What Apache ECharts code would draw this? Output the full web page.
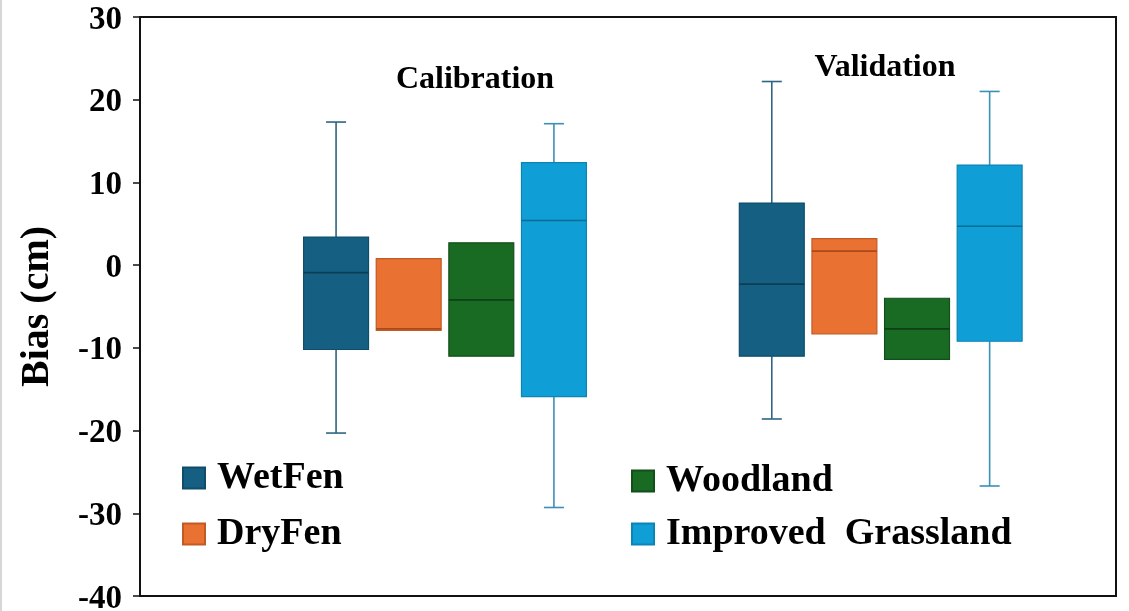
<!DOCTYPE html>
<html>
<head>
<meta charset="utf-8">
<script src="https://cdn.jsdelivr.net/npm/echarts@6/dist/echarts.min.js"></script>
<style>
  html, body { margin: 0; padding: 0; background: #ffffff; }
  #chart { width: 1129px; height: 611px; }
</style>
</head>
<body>
<div id="chart"></div>
<script>
// Groups along the x axis and land-cover classes drawn in each group
const groups = ['Calibration', 'Validation'];
const landCovers = ['WetFen', 'DryFen', 'Woodland', 'Improved  Grassland'];

// Bias statistics per group: [min, Q1, median, Q3, max] (cm)
const wetFen    = [[-20.3, -10.2, -0.9,  3.4, 17.3], [-18.6, -11.0, -2.3,  7.5, 22.2]];
const dryFen    = [[ -7.9,  -7.9, -7.7,  0.8,  0.8], [ -8.3,  -8.3,  1.7,  3.2,  3.2]];
const woodland  = [[-11.0, -11.0, -4.2,  2.7,  2.7], [-11.4, -11.4, -7.7, -4.0, -4.0]];
const grassland = [[-29.3, -15.9,  5.4, 12.4, 17.1], [-26.7,  -9.2,  4.7, 12.1, 21.0]];

// Y axis ticks
const yTicks = [-40, -30, -20, -10, 0, 10, 20, 30];

const seriesStats = [wetFen, dryFen, woodland, grassland];
const fills    = ['#156082', '#E97132', '#196B24', '#0F9ED5'];
const edges    = ['#0f4d6b', '#c25a26', '#134f1b', '#0c84b4'];
const medians  = ['#0c3d55', '#a9491c', '#0f3f15', '#0a6d95'];
const whiskers = ['#2d6582', '#c25a26', '#134f1b', '#3a90b5'];

const SERIF = '"Liberation Serif", "DejaVu Serif", serif';
const SLOT = 1 / 6;          // spacing between boxes inside a group (x units)
const BOX_W = 0.149;         // box width (x units)
const CAP_W = 0.046;         // whisker cap width (x units)

function makeRenderer(k) {
  return function (params, api) {
    const x = api.value(0);
    const lo = api.value(1), q1 = api.value(2), med = api.value(3), q3 = api.value(4), hi = api.value(5);
    const half = api.size([BOX_W, 0])[0] / 2;
    const cap = api.size([CAP_W, 0])[0] / 2;
    const pLo = api.coord([x, lo]);
    const pQ1 = api.coord([x, q1]);
    const pMed = api.coord([x, med]);
    const pQ3 = api.coord([x, q3]);
    const pHi = api.coord([x, hi]);
    const cx = pQ3[0];
    const children = [];
    const wStyle = { stroke: whiskers[k], lineWidth: 1.6 };
    if (hi > q3) {
      children.push({ type: 'line', shape: { x1: cx, y1: pQ3[1], x2: cx, y2: pHi[1] }, style: wStyle });
      children.push({ type: 'line', shape: { x1: cx - cap, y1: pHi[1], x2: cx + cap, y2: pHi[1] }, style: wStyle });
    }
    if (lo < q1) {
      children.push({ type: 'line', shape: { x1: cx, y1: pQ1[1], x2: cx, y2: pLo[1] }, style: wStyle });
      children.push({ type: 'line', shape: { x1: cx - cap, y1: pLo[1], x2: cx + cap, y2: pLo[1] }, style: wStyle });
    }
    children.push({
      type: 'rect',
      shape: { x: cx - half, y: pQ3[1], width: half * 2, height: pQ1[1] - pQ3[1] },
      style: { fill: fills[k], stroke: edges[k], lineWidth: 1.2 }
    });
    children.push({
      type: 'line',
      shape: { x1: cx - half, y1: pMed[1], x2: cx + half, y2: pMed[1] },
      style: { stroke: medians[k], lineWidth: 1.6 }
    });
    return { type: 'group', children: children };
  };
}

const series = landCovers.map(function (name, k) {
  const offset = (k - 1.5) * SLOT;
  return {
    name: name,
    type: 'custom',
    renderItem: makeRenderer(k),
    itemStyle: { color: fills[k], borderColor: edges[k], borderWidth: 1 },
    encode: { x: 0, y: [1, 2, 3, 4, 5] },
    data: groups.map(function (g, gi) {
      return [gi + 1 + offset].concat(seriesStats[k][gi]);
    })
  };
});

const legendText = {
  fontFamily: SERIF, fontWeight: 'bold', fontSize: 38, color: '#000',
  lineHeight: 36, padding: [0, 0, 0, 7]
};

const chart = echarts.init(document.getElementById('chart'), null, { renderer: 'canvas' });
chart.setOption({
  animation: false,
  backgroundColor: '#ffffff',
  grid: {
    left: 140, right: 13, top: 17, bottom: 15,
    outerBoundsMode: 'none', containLabel: false,
    show: true, borderColor: '#111', borderWidth: 2, backgroundColor: 'transparent'
  },
  xAxis: { type: 'value', min: 0.3, max: 2.54, show: false },
  yAxis: {
    type: 'value',
    min: yTicks[0], max: yTicks[yTicks.length - 1], interval: 10,
    name: 'Bias (cm)', nameLocation: 'middle', nameRotate: 90, nameGap: 82,
    nameTextStyle: { fontFamily: SERIF, fontWeight: 'bold', fontSize: 40, color: '#000' },
    axisLine: { show: true, lineStyle: { color: '#111', width: 2 } },
    axisTick: { show: true, inside: false, length: 7, lineStyle: { color: '#111', width: 1.5 } },
    axisLabel: {
      margin: 18,
      formatter: '{t|{value}}',
      rich: {
        t: { fontFamily: SERIF, fontWeight: 'bold', fontSize: 33, color: '#000', padding: [6, 0, 0, 0] }
      }
    },
    splitLine: { show: false }
  },
  legend: [
    {
      data: ['WetFen', 'DryFen'], orient: 'vertical', left: 177, top: 454,
      itemWidth: 22, itemHeight: 21, itemGap: 18, icon: 'rect',
      textStyle: legendText, selectedMode: false
    },
    {
      data: ['Woodland', 'Improved  Grassland'], orient: 'vertical', left: 626, top: 457,
      itemWidth: 22, itemHeight: 21, itemGap: 15, icon: 'rect',
      textStyle: legendText, selectedMode: false
    }
  ],
  graphic: [
    { type: 'rect', left: 0, top: 0, shape: { width: 2, height: 611 }, style: { fill: '#d6d6d6' }, silent: true },
    {
      type: 'text', x: 475, y: 80,
      style: { text: groups[0], fontFamily: SERIF, fontWeight: 'bold', fontSize: 32, fill: '#000', textAlign: 'center', textVerticalAlign: 'middle' }
    },
    {
      type: 'text', x: 885, y: 68,
      style: { text: groups[1], fontFamily: SERIF, fontWeight: 'bold', fontSize: 32, fill: '#000', textAlign: 'center', textVerticalAlign: 'middle' }
    }
  ],
  series: series
});
</script>
</body>
</html>
